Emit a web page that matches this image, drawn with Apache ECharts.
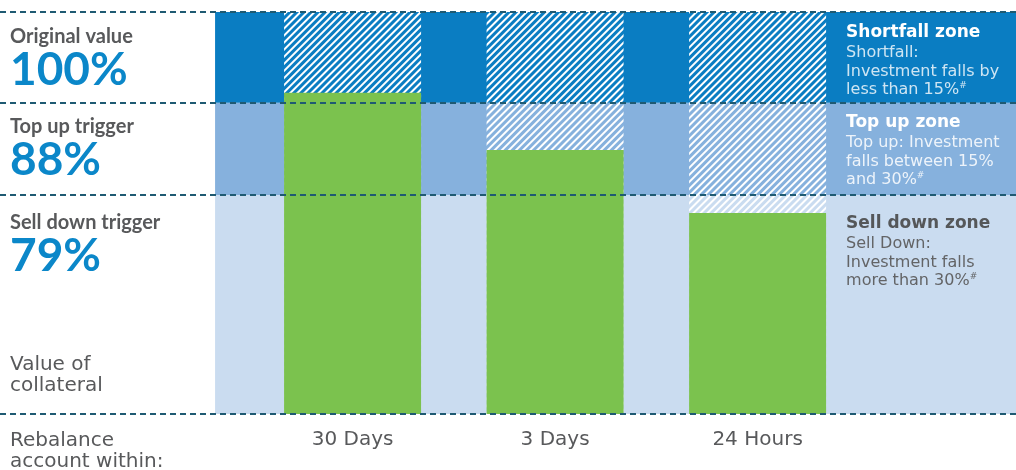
<!DOCTYPE html>
<html>
<head>
<meta charset="utf-8">
<script src="https://cdn.jsdelivr.net/npm/echarts@6.0.0/dist/echarts.min.js"></script>
<style>
  html, body { margin: 0; padding: 0; background: #fff; }
  #chart { width: 1016px; height: 470px; }
</style>
</head>
<body>
<div id="chart"></div>
<script>
// rebalance periods (one bar each)
var periods = ['30 Days', '3 Days', '24 Hours'];
// value of collateral, schematic height 0-100 (green part)
var collateral = [79.9, 65.7, 50];
// hatched part reaches the original value line
var hatchTop = [100, 100, 100];

// zone edges on the same schematic scale, bottom to top
var zoneBounds = [0, 54.5, 77.4, 100];
var zoneNames = ['Sell down zone', 'Top up zone', 'Shortfall zone'];
var zoneLines = [
    ['Sell Down:', 'Investment falls', 'more than 30%'],
    ['Top up: Investment', 'falls between 15%', 'and 30%'],
    ['Shortfall:', 'Investment falls by', 'less than 15%']
];
var triggerNames = ['Sell down trigger', 'Top up trigger', 'Original value'];
var triggerValues = ['79%', '88%', '100%'];

// x layout (in bar steps): bars sit at 0,1,2
var xMin = -1.741, xMax = 3.276;
var bandStart = -0.679;   // where the coloured zones begin
var textStart = 2.437;    // zone description column

var zoneColors = ['#cadcf0', '#86b1dd', '#0a7dc2'];
var titleColors = ['#555759', '#ffffff', '#ffffff'];
var descColors = ['#636466', 'rgba(255,255,255,0.85)', 'rgba(255,255,255,0.8)'];
var leftOffsets = [16.5, 13, 13.5];
var rightOffsets = [17, 8, 9];

var areas = [];
for (var i = 0; i < 3; i++) {
    // coloured band
    areas.push([
        { xAxis: bandStart, yAxis: zoneBounds[i + 1], itemStyle: { color: zoneColors[i] } },
        { xAxis: xMax, yAxis: zoneBounds[i] }
    ]);
    // trigger label on the left
    areas.push([
        {
            xAxis: xMin, yAxis: zoneBounds[i + 1],
            itemStyle: { color: 'rgba(0,0,0,0)' },
            label: {
                show: true, position: 'insideTopLeft', distance: 0,
                offset: [10, leftOffsets[i]],
                formatter: '{a|' + triggerNames[i] + '}\n{b|' + triggerValues[i] + '}',
                rich: {
                    a: { fontFamily: 'Lato', fontWeight: 'bold', fontSize: 20, lineHeight: 22, color: '#58595b' },
                    b: { fontFamily: 'Lato', fontWeight: 'bold', fontSize: 46, lineHeight: 45, color: '#0b87c9' }
                }
            }
        },
        { xAxis: bandStart, yAxis: zoneBounds[i] }
    ]);
    // zone description on the right
    areas.push([
        {
            xAxis: textStart, yAxis: zoneBounds[i + 1],
            itemStyle: { color: 'rgba(0,0,0,0)' },
            label: {
                show: true, position: 'insideTopLeft', distance: 0,
                offset: [0, rightOffsets[i]],
                formatter: '{t|' + zoneNames[i] + '}\n{d|' + zoneLines[i][0] + '}\n{d|' +
                    zoneLines[i][1] + '}\n{d|' + zoneLines[i][2] + '}{s|#}',
                rich: {
                    t: { fontFamily: 'DejaVu Sans', fontWeight: 'bold', fontSize: 17, lineHeight: 23, color: titleColors[i] },
                    d: { fontFamily: 'DejaVu Sans', fontSize: 16, lineHeight: 18.5, color: descColors[i] },
                    s: { fontFamily: 'DejaVu Sans', fontSize: 9, lineHeight: 18.5, verticalAlign: 'top', color: descColors[i] }
                }
            }
        },
        { xAxis: xMax, yAxis: zoneBounds[i] }
    ]);
}

var levelLines = zoneBounds.map(function (v) { return { yAxis: v }; });

var myChart = echarts.init(document.getElementById('chart'));
var option = {
    animation: false,
    grid: { left: 0, right: 0, top: 12, bottom: 56 },
    xAxis: { type: 'value', min: xMin, max: xMax, show: false },
    yAxis: { type: 'value', min: 0, max: 100, show: false },
    graphic: [
        {
            type: 'text', left: 10, top: 354,
            style: { text: 'Value of\ncollateral', fontFamily: 'DejaVu Sans', fontSize: 20, lineHeight: 21, fill: '#58595b' }
        },
        {
            type: 'text', left: 10, top: 430,
            style: { text: 'Rebalance\naccount within:', fontFamily: 'DejaVu Sans', fontSize: 20, lineHeight: 21, fill: '#58595b' }
        }
    ],
    series: [
        {
            name: 'hatch',
            type: 'bar',
            barWidth: 137,
            barGap: '-100%',
            silent: true,
            data: hatchTop.map(function (v, i) { return [i, v]; }),
            itemStyle: {
                color: 'rgba(0,0,0,0)',
                // white '/' stripes over the zone colours
                decal: {
                    symbol: 'rect', symbolSize: 1, color: '#ffffff',
                    dashArrayX: [1, 0], dashArrayY: [2, 3], rotation: -Math.PI / 4
                }
            },
            markArea: { silent: true, data: areas }
        },
        {
            name: 'collateral',
            type: 'bar',
            barWidth: 137,
            barGap: '-100%',
            silent: true,
            data: collateral.map(function (v, i) { return [i, v]; }),
            itemStyle: { color: '#7bc24e' },
            label: {
                show: true, position: 'bottom', distance: 14,
                fontFamily: 'DejaVu Sans', fontSize: 20, lineHeight: 24, color: '#58595b',
                formatter: function (p) { return periods[p.dataIndex]; }
            },
            markLine: {
                silent: true,
                symbol: 'none',
                label: { show: false },
                lineStyle: { color: '#1f5a72', width: 2, type: [6, 4] },
                data: levelLines
            }
        }
    ]
};
myChart.setOption(option);
</script>
</body>
</html>
